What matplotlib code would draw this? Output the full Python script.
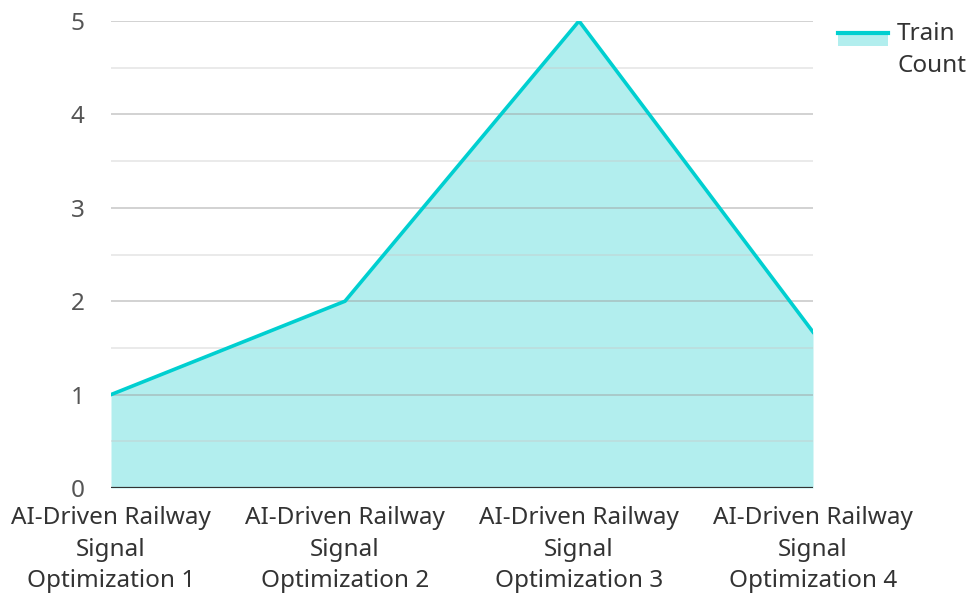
import numpy as np
import matplotlib
matplotlib.use('Agg')
import matplotlib.pyplot as plt
from matplotlib.patches import Rectangle
from matplotlib.lines import Line2D

plt.rcParams['font.family'] = ['Noto Sans', 'DejaVu Sans']

categories = ['AI-Driven Railway\nSignal\nOptimization 1',
              'AI-Driven Railway\nSignal\nOptimization 2',
              'AI-Driven Railway\nSignal\nOptimization 3',
              'AI-Driven Railway\nSignal\nOptimization 4']
train_count = [1, 2, 5, 1.67]
series_name = 'Train\nCount'

line_color = '#00cfd0'
fill_color = '#b2eeee'
text_color = '#333333'

fig = plt.figure(figsize=(9.71, 5.95), dpi=100)
ax = fig.add_axes([111 / 971, 107 / 595, 702 / 971, 467 / 595])

x = np.arange(len(categories))
ax.fill_between(x, 0, train_count, color=fill_color, lw=0, zorder=1)

# grid: integer lines darker, half steps lighter (drawn over the fill, semi-opaque)
for v in np.arange(0.5, 5.01, 0.5):
    if v % 1 == 0:
        ax.axhline(v, color='#a0a0a0', lw=1.2, alpha=0.55, zorder=2)
    else:
        ax.axhline(v, color='#c8c8c8', lw=1.2, alpha=0.45, zorder=2)

ax.plot(x, train_count, color=line_color, lw=2.6, zorder=3, solid_joinstyle='miter')
ax.axhline(0, color=text_color, lw=1.6, zorder=4)

ax.set_xlim(0, len(categories) - 1)
ax.set_ylim(0, 5)
ax.set_yticks(range(0, 6))
ax.set_xticks(x)
ax.set_xticklabels(categories, fontsize=17.5, color=text_color, linespacing=1.42)
ax.tick_params(axis='y', length=0, pad=19, labelsize=17.5, labelcolor='#555555')
ax.tick_params(axis='x', length=0, pad=13)
for s in ax.spines.values():
    s.set_visible(False)

# legend: line over a filled swatch
fig.patches.append(Rectangle((838 / 971, 1 - 46 / 595), 50 / 971, 12 / 595,
                             transform=fig.transFigure, color=fill_color, lw=0))
fig.lines.append(Line2D([838 / 971, 888 / 971], [1 - 33 / 595, 1 - 33 / 595],
                        transform=fig.transFigure, color=line_color, lw=3))
fig.text(897 / 971, 1 - 22 / 595, series_name, fontsize=17.5, color=text_color,
         va='top', ha='left', linespacing=1.42)

fig.savefig('out.png', dpi=100)
